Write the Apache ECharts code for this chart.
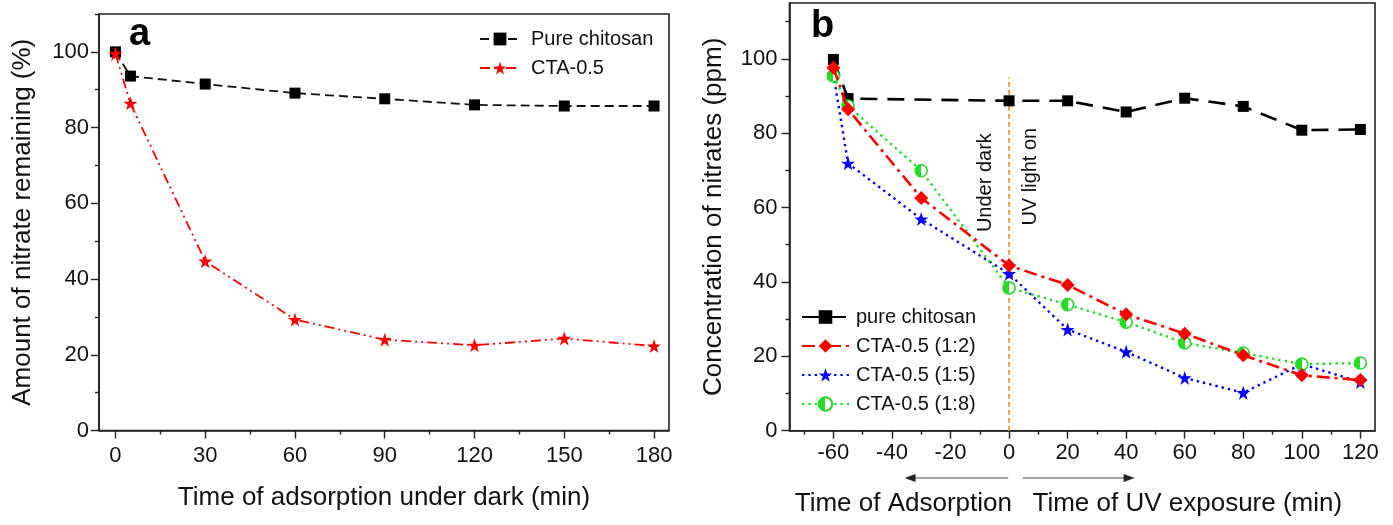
<!DOCTYPE html>
<html><head><meta charset="utf-8">
<script src="https://cdn.jsdelivr.net/npm/echarts@6/dist/echarts.min.js"></script>
<style>html,body{margin:0;padding:0;background:#fff}#c{width:1393px;height:525px}</style>
</head><body><div id="c"></div>
<script>
// ---- Panel a data ----
const aTime = [0, 5, 30, 60, 90, 120, 150, 180];
const aPureChitosan = [100, 93.6, 91.5, 89.1, 87.6, 86.0, 85.7, 85.7];
const aCTA05 = [99.5, 86.4, 44.7, 29.3, 24.0, 22.5, 24.3, 22.3];
const aXTicks = [0, 30, 60, 90, 120, 150, 180];
const aXMinor = [15, 45, 75, 105, 135, 165];
const aYTicks = [0, 20, 40, 60, 80, 100];
const aYMinor = [10, 30, 50, 70, 90, 110];

// ---- Panel b data ----
const bTime = [-60, -55, -30, 0, 20, 40, 60, 80, 100, 120];
const bPureChitosan = [99.8, 89.3, null, 88.7, 88.7, 85.7, 89.4, 87.2, 80.8, 81.0];
const bCTA12 = [97.6, 86.4, 62.6, 44.4, 39.2, 31.3, 26.1, 20.3, 14.9, 13.6];
const bCTA15 = [95.8, 71.9, 56.9, 42.2, 27.2, 21.2, 14.2, 10.2, 17.9, 13.1];
const bCTA18 = [95.4, 87.3, 69.9, 38.4, 33.9, 29.2, 23.6, 20.9, 17.9, 18.2];
const bXTicks = [-60, -40, -20, 0, 20, 40, 60, 80, 100, 120];
const bXMinor = [-70, -50, -30, -10, 10, 30, 50, 70, 90, 110];
const bYTicks = [0, 20, 40, 60, 80, 100];
const bYMinor = [10, 30, 50, 70, 90, 110];
const uvOnLine = [[0, 0], [0, 95]];

const FONT = '"Liberation Sans", Arial, sans-serif';
const STAR = 'path://M50,0 L61.8,35.1 L97.6,35.1 L68.8,56.8 L79.4,91.9 L50,70.2 L20.6,91.9 L31.2,56.8 L2.4,35.1 L38.2,35.1 Z';
const AX = '#222';
const GREEN = '#22dd22';
const halfGreen = new echarts.graphic.LinearGradient(0, 0, 1, 0, [
  { offset: 0, color: GREEN }, { offset: 0.5, color: GREEN },
  { offset: 0.5, color: '#ffffff' }, { offset: 1, color: '#ffffff' }
]);

function zip(xs, ys) { return xs.map((x, i) => [x, ys[i]]); }

function mainX(grid, min, max, labels, labelMargin, name, nameGap) {
  return {
    type: 'value', gridIndex: grid, min: min, max: max, position: 'bottom',
    axisLine: { show: true, onZero: false, lineStyle: { color: AX, width: 1.6 } },
    axisTick: { show: true, customValues: labels, length: 8, inside: false, lineStyle: { color: AX, width: 1.4 } },
    axisLabel: { customValues: labels, margin: labelMargin, fontFamily: FONT, fontSize: 22, color: '#111' },
    splitLine: { show: false },
    name: name, nameLocation: 'middle', nameGap: nameGap,
    nameTextStyle: { fontFamily: FONT, fontSize: 26, color: '#111' }
  };
}
function minorX(grid, min, max, ticks) {
  return {
    type: 'value', gridIndex: grid, min: min, max: max, position: 'bottom',
    axisLine: { show: false, onZero: false },
    axisTick: { show: true, customValues: ticks, length: 4, lineStyle: { color: AX, width: 1.4 } },
    axisLabel: { show: false }, splitLine: { show: false }
  };
}
function mainY(grid, min, max, labels, labelMargin, name, nameGap) {
  return {
    type: 'value', gridIndex: grid, min: min, max: max, position: 'left',
    axisLine: { show: true, onZero: false, lineStyle: { color: AX, width: 1.6 } },
    axisTick: { show: true, customValues: labels, length: 8, lineStyle: { color: AX, width: 1.4 } },
    axisLabel: { customValues: labels, margin: labelMargin, fontFamily: FONT, fontSize: 22, color: '#111' },
    splitLine: { show: false },
    name: name, nameLocation: 'middle', nameGap: nameGap,
    nameTextStyle: { fontFamily: FONT, fontSize: 26, color: '#111' }
  };
}
function minorY(grid, min, max, ticks) {
  return {
    type: 'value', gridIndex: grid, min: min, max: max, position: 'left',
    axisLine: { show: false, onZero: false },
    axisTick: { show: true, customValues: ticks, length: 4, lineStyle: { color: AX, width: 1.4 } },
    axisLabel: { show: false }, splitLine: { show: false }
  };
}

const chart = echarts.init(document.getElementById('c'), null, { renderer: 'canvas' });

const option = {
  animation: false,
  backgroundColor: '#fff',
  grid: [
    { left: 99, top: 14, right: 724, bottom: 94.5, show: true, borderColor: AX, borderWidth: 1.6, containLabel: false },
    { left: 789.5, top: 3, right: 18, bottom: 94.3, show: true, borderColor: AX, borderWidth: 1.6, containLabel: false }
  ],
  xAxis: [
    mainX(0, -5.5, 185, aXTicks, 14, 'Time of adsorption under dark (min)', 54),
    minorX(0, -5.5, 185, aXMinor),
    mainX(1, -75, 125, bXTicks, 11, '', 0),
    minorX(1, -75, 125, bXMinor)
  ],
  yAxis: [
    mainY(0, 0, 110, aYTicks, 10, 'Amount of nitrate remaining (%)', 63),
    minorY(0, 0, 110, aYMinor),
    mainY(1, 0, 115, bYTicks, 12, 'Concentration of nitrates (ppm)', 63),
    minorY(1, 0, 115, bYMinor)
  ],
  legend: [
    {
      left: 474, top: 24, orient: 'vertical', itemWidth: 40, itemHeight: 16, itemGap: 9,
      data: ['Pure chitosan', 'CTA-0.5'],
      textStyle: { fontFamily: FONT, fontSize: 20, color: '#111', padding: [0, 0, 0, 6] }
    },
    {
      left: 796, top: 302, orient: 'vertical', itemWidth: 47, itemHeight: 17, itemGap: 9,
      data: ['pure chitosan', 'CTA-0.5 (1:2)', 'CTA-0.5 (1:5)', 'CTA-0.5 (1:8)'],
      textStyle: { fontFamily: FONT, fontSize: 20, color: '#111', padding: [0, 0, 0, 2] }
    }
  ],
  series: [
    {
      name: 'Pure chitosan', type: 'line', xAxisIndex: 0, yAxisIndex: 0,
      data: zip(aTime, aPureChitosan), symbol: 'rect', symbolSize: 11,
      lineStyle: { color: '#111', width: 1.8, type: [9, 5] }, itemStyle: { color: '#000' }, z: 3
    },
    {
      name: 'CTA-0.5', type: 'line', xAxisIndex: 0, yAxisIndex: 0,
      data: zip(aTime, aCTA05), symbol: STAR, symbolSize: 14,
      lineStyle: { color: '#ff0000', width: 1.8, type: [10, 4, 2, 4, 2, 4] }, itemStyle: { color: '#ff0000' }, z: 4
    },
    {
      name: 'uv', type: 'line', xAxisIndex: 2, yAxisIndex: 2, data: uvOnLine, symbol: 'none', silent: true,
      lineStyle: { color: '#f5a030', width: 2, type: [5, 3] }, z: 1
    },
    {
      name: 'pure chitosan', type: 'line', xAxisIndex: 2, yAxisIndex: 2,
      data: zip(bTime, bPureChitosan), connectNulls: true, symbol: 'rect', symbolSize: 11,
      lineStyle: { color: '#000', width: 2.6, type: [17, 10] }, itemStyle: { color: '#000' }, z: 3
    },
    {
      name: 'CTA-0.5 (1:2)', type: 'line', xAxisIndex: 2, yAxisIndex: 2,
      data: zip(bTime, bCTA12), symbol: 'diamond', symbolSize: 14,
      lineStyle: { color: '#ff0000', width: 2.6, type: [13, 5, 3, 5] }, itemStyle: { color: '#ff0000' }, z: 5
    },
    {
      name: 'CTA-0.5 (1:5)', type: 'line', xAxisIndex: 2, yAxisIndex: 2,
      data: zip(bTime, bCTA15), symbol: STAR, symbolSize: 14,
      lineStyle: { color: '#0000ff', width: 2.4, type: [2.4, 4] }, itemStyle: { color: '#0000ff' }, z: 4
    },
    {
      name: 'CTA-0.5 (1:8)', type: 'line', xAxisIndex: 2, yAxisIndex: 2,
      data: zip(bTime, bCTA18), symbol: 'circle', symbolSize: 12,
      lineStyle: { color: GREEN, width: 2.4, type: [2.4, 4] },
      itemStyle: { color: halfGreen, borderColor: GREEN, borderWidth: 1.6 }, z: 4
    }
  ]
};
chart.setOption(option);

function px(v) { return chart.convertToPixel({ xAxisIndex: 2, yAxisIndex: 2 }, v); }
const ud = px([-8.2, 66.7]);
const uv = px([7.2, 68.3]);
const arL0 = px([-0.3, 0]), arL1 = px([-35.7, 0]);
const arR0 = px([4.7, 0]), arR1 = px([42.9, 0]);
const arY = 478;
const txtY = 504;
const leftTitleEnd = px([1, 0])[0];
const rightTitleStart = px([8, 0])[0];

chart.setOption({
  graphic: [
    { type: 'text', left: 129, top: 16, style: { text: 'a', font: 'bold 38px ' + FONT, fill: '#000' } },
    { type: 'text', left: 811, top: 8, style: { text: 'b', font: 'bold 38px ' + FONT, fill: '#000' } },
    { type: 'text', x: ud[0], y: ud[1], rotation: Math.PI / 2,
      style: { text: 'Under dark', font: '20px ' + FONT, fill: '#111', align: 'center', verticalAlign: 'middle' } },
    { type: 'text', x: uv[0], y: uv[1], rotation: Math.PI / 2,
      style: { text: 'UV light on', font: '20px ' + FONT, fill: '#111', align: 'center', verticalAlign: 'middle' } },
    { type: 'line', shape: { x1: arL0[0], y1: arY, x2: arL1[0] + 8, y2: arY }, style: { stroke: '#888', lineWidth: 1.5 } },
    { type: 'polygon', shape: { points: [[arL1[0], arY], [arL1[0] + 11, arY - 4], [arL1[0] + 11, arY + 4]] }, style: { fill: '#222' } },
    { type: 'line', shape: { x1: arR0[0], y1: arY, x2: arR1[0] - 8, y2: arY }, style: { stroke: '#888', lineWidth: 1.5 } },
    { type: 'polygon', shape: { points: [[arR1[0], arY], [arR1[0] - 11, arY - 4], [arR1[0] - 11, arY + 4]] }, style: { fill: '#222' } },
    { type: 'text', x: leftTitleEnd, y: txtY,
      style: { text: 'Time of Adsorption', font: '26px ' + FONT, fill: '#111', align: 'right', verticalAlign: 'middle' } },
    { type: 'text', x: rightTitleStart, y: txtY,
      style: { text: 'Time of UV exposure (min)', font: '26px ' + FONT, fill: '#111', align: 'left', verticalAlign: 'middle' } }
  ]
});
</script>
</body></html>
